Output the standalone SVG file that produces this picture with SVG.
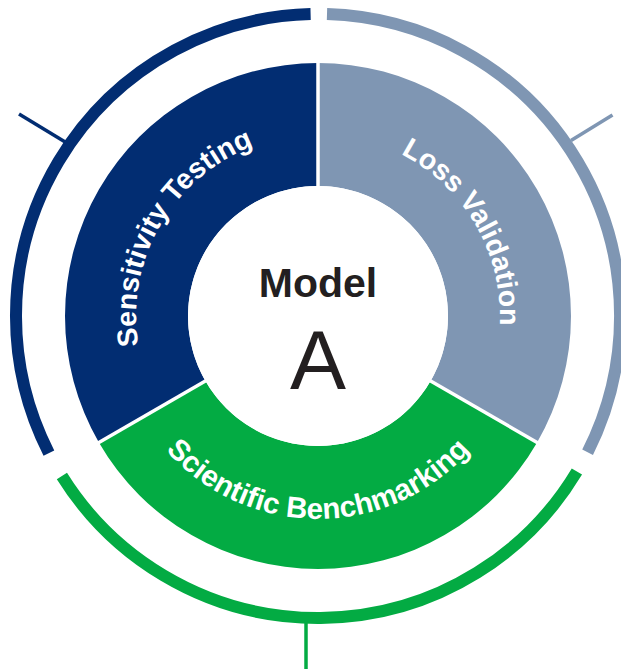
<svg xmlns="http://www.w3.org/2000/svg" width="621" height="669" viewBox="0 0 621 669">
<style>
.navy{fill:#022D72}
.gray{fill:#7F96B3}
.green{fill:#03AB43}
.ring{fill:none;stroke-width:12;stroke-linecap:butt}
.tick{fill:none;stroke-width:3.5}
.div{stroke:#fff;stroke-width:3.5}
.seg{font-family:"Liberation Sans",Arial,sans-serif;font-weight:bold;font-size:28.5px;fill:#fff}
.ctr{font-family:"Liberation Sans",Arial,sans-serif;fill:#231F20;text-anchor:middle}
</style>
<defs>
<path id="pSens" d="M201,455.4 A182,182 0 0 1 380.2,145"/>
<path id="pLoss" d="M255.8,145 A182,182 0 0 1 435,455.4"/>
<path id="pSci" d="M118.1,351.2 A203,203 0 0 0 517.9,351.2"/>
</defs>
<rect width="621" height="669" fill="#fff"/>
<g id="connectors">
<path class="ring" stroke="#022D72" d="M48.9,453.1 A302,302 0 0 1 310.6,14.1"/>
<path class="ring" stroke="#7F96B3" d="M327,14.1 A302,302 0 0 1 587.6,452.2"/>
<path class="ring" stroke="#03AB43" d="M576.9,471.5 A302,302 0 0 1 61.9,476"/>
<line class="tick" stroke="#022D72" x1="19" y1="114" x2="66" y2="142.5"/>
<line class="tick" stroke="#7F96B3" x1="571" y1="140.5" x2="612.5" y2="115"/>
<line class="tick" stroke="#03AB43" x1="306" y1="620" x2="306" y2="669"/>
</g>
<g id="sensitivity-testing">
<path class="navy" d="M98.9,442.5 A253,253 0 0 1 318,63 L318,186 A130,130 0 0 0 205.4,381 Z"/>
<text class="seg"><textPath href="#pSens" startOffset="50%" text-anchor="middle">Sensitivity Testing</textPath></text>
</g>
<g id="loss-validation">
<path class="gray" d="M318,63 A253,253 0 0 1 537.1,442.5 L430.6,381 A130,130 0 0 0 318,186 Z"/>
<text class="seg"><textPath href="#pLoss" startOffset="50%" text-anchor="middle">Loss Validation</textPath></text>
</g>
<g id="scientific-benchmarking">
<path class="green" d="M537.1,442.5 A253,253 0 0 1 98.9,442.5 L205.4,381 A130,130 0 0 0 430.6,381 Z"/>
<text class="seg" style="font-size:29.5px"><textPath href="#pSci" startOffset="50%" text-anchor="middle">Scientific Benchmarking</textPath></text>
</g>
<g id="dividers">
<line class="div" x1="318" y1="60" x2="318" y2="190"/>
<line class="div" x1="426.3" y1="378.5" x2="539.7" y2="444"/>
<line class="div" x1="209.7" y1="378.5" x2="96.3" y2="444"/>
</g>
<g id="model-a">
<circle cx="318" cy="316" r="130" fill="#fff"/>
<text class="ctr" x="318" y="297" font-size="41" font-weight="bold">Model</text>
<text class="ctr" x="318" y="389" font-size="84">A</text>
</g>
</svg>
